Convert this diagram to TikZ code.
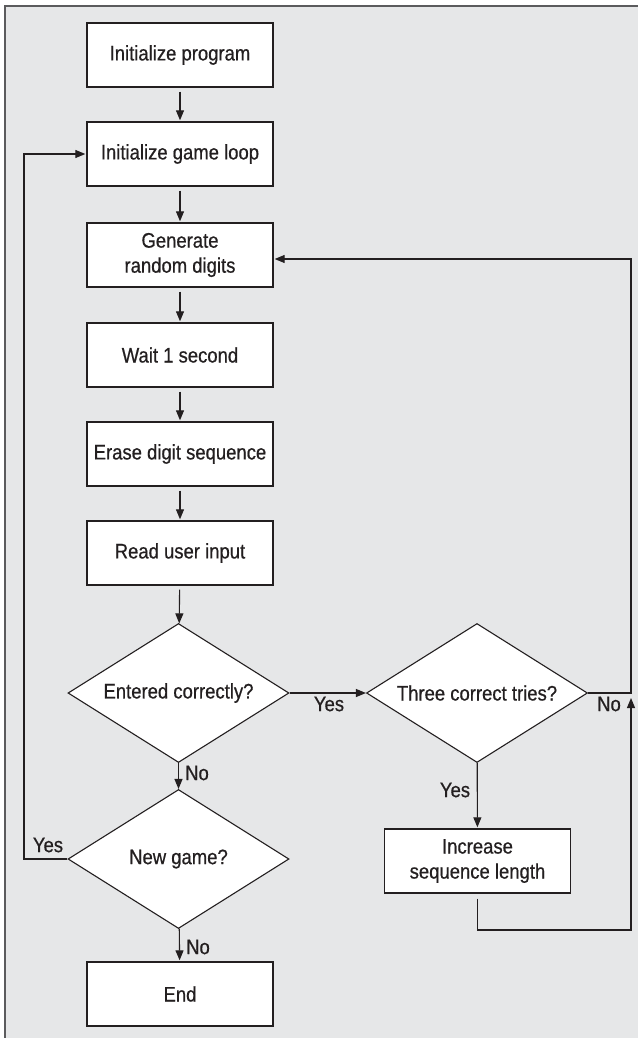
\documentclass[tikz,border=0pt]{standalone}
\usepackage{fontspec}
\setmainfont{Liberation Sans}[FakeStretch=0.88,FakeBold=0.6]
\usetikzlibrary{shapes.geometric,arrows.meta}
\definecolor{panel}{HTML}{E6E7E8}
\definecolor{ink}{HTML}{231F20}
\definecolor{rim}{HTML}{5B5B5D}
\begin{document}
\begin{tikzpicture}[x=1pt,y=-1pt,
  font=\fontsize{21}{25}\selectfont,
  stepbox/.style={draw=ink,line width=1.4pt,fill=white,text=ink,
    minimum width=186pt,minimum height=64pt,inner sep=0pt,align=center},
  decision/.style={diamond,draw=ink,line width=1.1pt,fill=white,text=ink,
    minimum width=221pt,minimum height=139pt,inner sep=0pt,shape aspect=1.6},
  flow/.style={draw=ink,line width=1.1pt,-{Triangle[length=10pt,width=8pt]}},
  lbl/.style={inner sep=0pt,text=ink}]
\useasboundingbox (0,0) rectangle (638,1038);
% panel with its top and left rule
\fill[panel] (5,6) rectangle (638,1038);
\draw[rim,line width=2pt] (5,1038) -- (5,6) -- (638,6);

% main column
\node[stepbox] (init)  at (180,55)  {Initialize program};
\node[stepbox] (game)  at (180,154) {Initialize game loop};
\node[stepbox] (gen)   at (180,255) {Generate\\random digits};
\node[stepbox] (wait)  at (180,355) {Wait 1 second};
\node[stepbox] (erase) at (180,454) {Erase digit sequence};
\node[stepbox] (read)  at (180,553) {Read user input};
\node[decision] (entered) at (178.5,693) {Entered correctly?};
\node[decision] (newgame) at (178.5,859) {New game?};
\node[stepbox] (finish) at (180,994) {End};

% right column
\node[decision] (three) at (477,693) {Three correct tries?};
\node[stepbox] (inc) at (477.5,861) {Increase\\sequence length};

% straight flow
\draw[flow,shorten <=4pt,shorten >=1pt] (init) -- (game);
\draw[flow,shorten <=4pt,shorten >=1pt] (game) -- (gen);
\draw[flow,shorten <=4pt,shorten >=1pt] (gen) -- (wait);
\draw[flow,shorten <=4pt,shorten >=1pt] (wait) -- (erase);
\draw[flow,shorten <=4pt,shorten >=1pt] (erase) -- (read);
\draw[flow,shorten <=4pt] (read) -- (entered);
\draw[flow] (entered) -- (newgame);
\draw[flow,shorten >=1pt] (newgame) -- (finish);
\draw[flow] (entered.east) -- (three.west);
\draw[flow,shorten >=1pt] (three) -- (inc);

% back to a new game
\coordinate (lcorner) at (24,859);
\draw[flow,shorten >=1pt] (newgame.west) -- (lcorner) |- (game.west);

% back to generating digits
\coordinate (rjoin) at (631,693);
\coordinate (rtop) at (631,259);
\draw[flow,shorten >=1pt] (three.east) -- (rjoin) -- (rtop) -- (rtop -| gen.east);
\coordinate (rbot) at (631,930);
\coordinate (rup) at (631,698);
\draw[flow,shorten <=5pt] (inc.south) |- (rbot) -- (rup);

% branch labels
\node[lbl] (yesA) at (329,704) {Yes};
\node[lbl] (noA)  at (197,773) {No};
\node[lbl] (yesB) at (48,845)  {Yes};
\node[lbl] (noB)  at (198,947) {No};
\node[lbl] (yesC) at (455,790) {Yes};
\node[lbl] (noC)  at (609,704) {No};
\end{tikzpicture}
\end{document}
